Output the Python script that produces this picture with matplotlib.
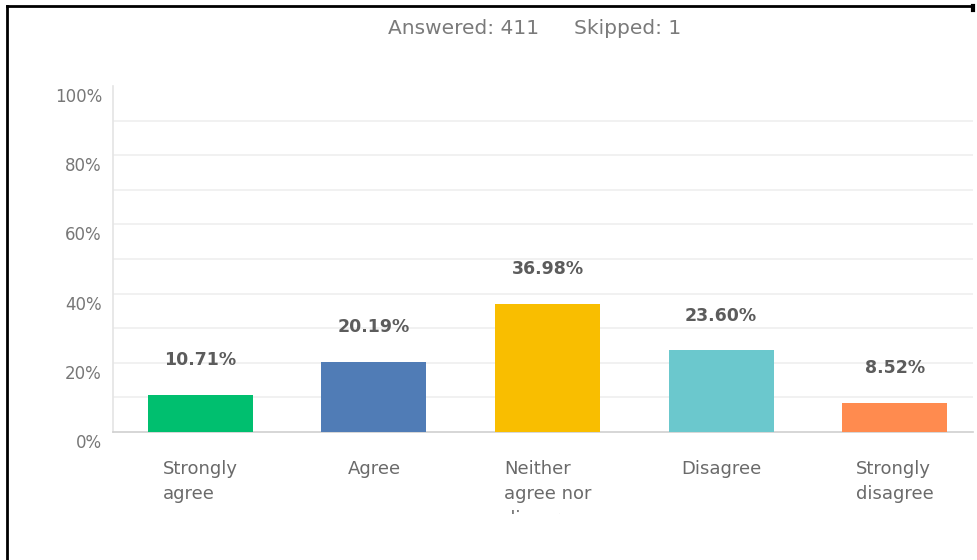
import matplotlib
matplotlib.use("Agg")
import matplotlib.pyplot as plt
from matplotlib.lines import Line2D
from matplotlib.transforms import Bbox, ScaledTranslation
import numpy as np

# survey answer shares (%)
categories = ["Strongly\nagree", "Agree", "Neither\nagree nor\ndisagree", "Disagree", "Strongly\ndisagree"]
shares = [10.71, 20.19, 36.98, 23.60, 8.52]
colors = ["#00BF6F", "#507CB6", "#F9BE00", "#6BC8CD", "#FF8B4F"]
y_ticks = [0, 20, 40, 60, 80, 100]
y_labels = ["0%", "20%", "40%", "60%", "80%", "100%"]
grid_levels = [10, 20, 30, 40, 50, 60, 70, 80, 90]
answered = 411
skipped = 1

W, H = 977, 560
fig = plt.figure(figsize=(W / 100, H / 100), dpi=100)
ax = fig.add_axes([113 / W, (H - 432) / H, (973 - 113) / W, 346 / H])

x = np.arange(len(categories))
ax.bar(x, shares, width=0.605, color=colors, zorder=3)
ax.set_xlim(-0.504, 4.452)
ax.set_ylim(0, 100)

# light grid every 10%, none on the top edge
for g in grid_levels:
    ax.axhline(g, color="#efefef", linewidth=1.2, zorder=0)

ax.set_yticks(y_ticks, y_labels)
ax.tick_params(axis="y", length=0, pad=8, labelsize=12, labelcolor="#777777")
offset = ScaledTranslation(0, -9 / 100, fig.dpi_scale_trans)
for lab in ax.get_yticklabels():
    lab.set_fontfamily("DejaVu Sans")
    lab.set_transform(lab.get_transform() + offset)

ax.set_xticks(x, categories)
ax.tick_params(axis="x", length=0, pad=20, labelsize=13, labelcolor="#6a6a6a")
# the label area is cut off just below the second text line
clip = Bbox.from_bounds(0, H - 514, W, 514)
for lab in ax.get_xticklabels():
    lab.set_fontfamily("DejaVu Sans")
    lab.set_linespacing(1.5)
    lab.set_multialignment("left")
    lab.set_clip_box(clip)
    lab.set_clip_on(True)

for s in ["top", "right"]:
    ax.spines[s].set_visible(False)
ax.spines["left"].set_color("#e4e4e4")
ax.spines["bottom"].set_color("#cfcfcf")
ax.spines["left"].set_linewidth(1.2)
ax.spines["bottom"].set_linewidth(1.2)

# value labels above bars
for xi, v in zip(x, shares):
    ax.annotate(f"{v:.2f}%", (xi, v), xytext=(0, 25), textcoords="offset points",
                ha="center", va="center", fontsize=12.5, fontweight="bold",
                color="#5c5c5c", family="DejaVu Sans")

fig.text(388 / W, 1 - 28 / H, f"Answered: {answered}", ha="left", va="center",
         fontsize=14.5, color="#7a7a7a", family="DejaVu Sans")
fig.text(574 / W, 1 - 28 / H, f"Skipped: {skipped}", ha="left", va="center",
         fontsize=14.5, color="#7a7a7a", family="DejaVu Sans")

# black frame on top and left
fig.add_artist(Line2D([7 / W, 973 / W], [1 - 6 / H, 1 - 6 / H], color="black", linewidth=2))
fig.add_artist(Line2D([7 / W, 7 / W], [0, 1 - 6 / H], color="black", linewidth=2))
fig.add_artist(Line2D([973 / W, 973 / W], [1 - 6 / H, 1 - 10 / H], color="black", linewidth=3))

fig.savefig("out.png", dpi=100, facecolor="white")
